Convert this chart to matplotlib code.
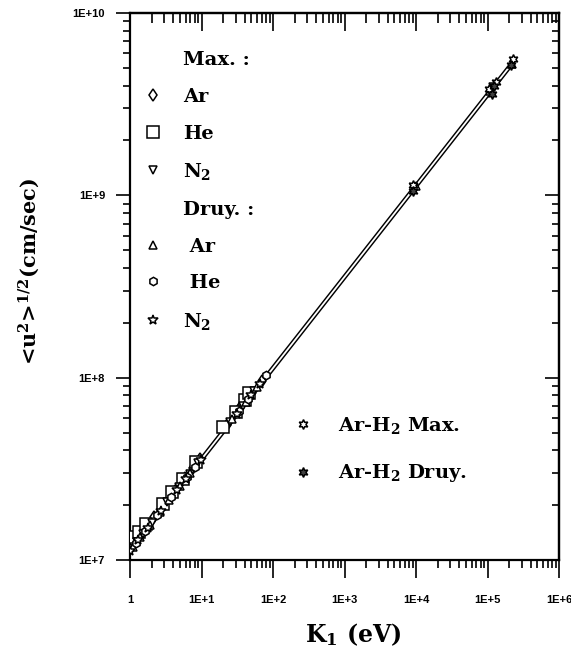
import matplotlib
matplotlib.use("Agg")
import matplotlib.pyplot as plt
from matplotlib.ticker import LogLocator, FixedLocator, FixedFormatter, NullFormatter
from matplotlib.lines import Line2D

SERIF = 'DejaVu Serif'
plt.rcParams['mathtext.fontset'] = 'custom'
plt.rcParams['mathtext.rm'] = 'DejaVu Serif:bold'
plt.rcParams['mathtext.it'] = 'DejaVu Serif:bold'
plt.rcParams['mathtext.bf'] = 'DejaVu Serif:bold'
plt.rcParams['mathtext.default'] = 'rm'

# ---------------- data ----------------
fit_K = [1.0, 2.3e5]
fit_v = [1.13e7, 5.4e9]

max_ar_K = [1.1, 1.3, 1.6, 2.2, 3.0, 4.2, 5.8, 7.5, 9.5, 23, 36, 48, 70]
max_ar_v = [1.25e7, 1.33e7, 1.48e7, 1.72e7, 2.02e7, 2.38e7, 2.80e7, 3.18e7, 3.58e7, 5.5e7, 6.95e7, 8.0e7, 9.6e7]

max_he_K = [1.15, 1.35, 1.7, 2.9, 3.9, 5.6, 8.5, 20, 30, 40, 46]
max_he_v = [1.33e7, 1.42e7, 1.57e7, 2.03e7, 2.36e7, 2.78e7, 3.45e7, 5.37e7, 6.46e7, 7.55e7, 8.2e7]

max_n2_K = [1.05, 1.25, 1.5, 2.0, 3.3, 4.8, 6.8, 9.0, 25, 38, 55, 9500, 1.2e5]
max_n2_v = [1.15e7, 1.25e7, 1.38e7, 1.6e7, 2.08e7, 2.5e7, 2.98e7, 3.42e7, 5.7e7, 7.0e7, 8.5e7, 1.1e9, 3.95e9]

dru_ar_K = [1.1, 1.4, 1.9, 2.6, 3.5, 5.0, 7.0, 27, 42, 60, 1.0e4, 1.1e5, 2.2e5]
dru_ar_v = [1.18e7, 1.34e7, 1.56e7, 1.83e7, 2.12e7, 2.55e7, 3.0e7, 5.9e7, 7.4e7, 8.9e7, 1.12e9, 3.75e9, 5.25e9]

dru_he_K = [1.2, 1.6, 2.4, 3.8, 6.2, 8.0, 33, 45, 80]
dru_he_v = [1.24e7, 1.44e7, 1.76e7, 2.22e7, 2.85e7, 3.22e7, 6.55e7, 7.65e7, 1.03e8]

dru_n2_K = [1.0, 1.3, 1.8, 2.7, 4.5, 6.0, 9.8, 31, 50, 65]
dru_n2_v = [1.12e7, 1.28e7, 1.5e7, 1.86e7, 2.42e7, 2.78e7, 3.55e7, 6.3e7, 8.05e7, 9.2e7]

arh2_max_K = [9200, 1.05e5, 1.3e5, 2.25e5]
arh2_max_v = [1.14e9, 3.85e9, 4.2e9, 5.6e9]

arh2_dru_K = [9000, 1.15e5, 1.25e5, 2.15e5]
arh2_dru_v = [1.06e9, 3.6e9, 4.0e9, 5.2e9]

x_ticks = [1, 1e1, 1e2, 1e3, 1e4, 1e5, 1e6]
x_ticklabels = ['1', '1E+1', '1E+2', '1E+3', '1E+4', '1E+5', '1E+6']
y_ticks = [1e7, 1e8, 1e9, 1e10]
y_ticklabels = ['1E+7', '1E+8', '1E+9', '1E+10']

# ---------------- figure ----------------
fig = plt.figure(figsize=(5.71, 6.54), dpi=100)
ax = fig.add_axes([130/571, 1-560/654, 429/571, 547/654])
ax.set_xscale('log')
ax.set_yscale('log')
ax.set_xlim(1, 1e6)
ax.set_ylim(1e7, 1e10)

# fit line drawn as hollow double line
ax.plot(fit_K, fit_v, color='black', lw=3.4, solid_capstyle='butt', zorder=2)
ax.plot(fit_K, fit_v, color='white', lw=1.3, solid_capstyle='butt', zorder=2.1)

mk = dict(linestyle='none', markerfacecolor='white', markeredgecolor='black', markeredgewidth=1.1, zorder=3)
ax.plot(max_ar_K, max_ar_v, marker='d', markersize=6, **mk)
ax.plot(max_he_K, max_he_v, marker='s', markersize=8, **mk)
ax.plot(max_n2_K, max_n2_v, marker='v', markersize=5.5, **mk)
ax.plot(dru_ar_K, dru_ar_v, marker='^', markersize=5.5, **mk)
ax.plot(dru_he_K, dru_he_v, marker='h', markersize=6, **mk)
ax.plot(dru_n2_K, dru_n2_v, marker='*', markersize=7, **mk)
ax.plot(arh2_max_K, arh2_max_v, marker=(6, 1, 0), markersize=7, **mk)
ax.plot(arh2_dru_K, arh2_dru_v, marker=(6, 1, 0), markersize=7,
        linestyle='none', markerfacecolor='0.25', markeredgecolor='black', markeredgewidth=1.1, zorder=3)

# ticks
for s in ax.spines.values():
    s.set_linewidth(1.6)
ax.xaxis.set_major_locator(FixedLocator(x_ticks))
ax.xaxis.set_major_formatter(FixedFormatter(x_ticklabels))
ax.yaxis.set_major_locator(FixedLocator(y_ticks))
ax.yaxis.set_major_formatter(FixedFormatter(y_ticklabels))
ax.xaxis.set_minor_locator(LogLocator(base=10, subs=range(2, 10), numticks=20))
ax.yaxis.set_minor_locator(LogLocator(base=10, subs=range(2, 10), numticks=20))
ax.xaxis.set_minor_formatter(NullFormatter())
ax.yaxis.set_minor_formatter(NullFormatter())
ax.tick_params(axis='both', which='major', direction='out', length=13, width=1.2,
               labelsize=8, pad=12)
ax.tick_params(axis='both', which='minor', direction='out', length=6, width=1.2)
ax.tick_params(axis='y', which='major', length=10, pad=8)
ax.tick_params(axis='y', which='minor', length=5)
for lab in ax.get_xticklabels() + ax.get_yticklabels():
    lab.set_fontfamily('Liberation Sans')
    lab.set_fontweight('bold')

secx = ax.secondary_xaxis('top')
secx.xaxis.set_major_locator(FixedLocator(x_ticks))
secx.xaxis.set_minor_locator(LogLocator(base=10, subs=range(2, 10), numticks=20))
secx.tick_params(which='major', direction='in', length=13, width=1.2, labeltop=False)
secx.tick_params(which='minor', direction='in', length=7, width=1.2)
secx.xaxis.set_minor_formatter(NullFormatter())
secx.spines['top'].set_linewidth(1.6)

secy = ax.secondary_yaxis('right')
secy.yaxis.set_major_locator(FixedLocator(y_ticks))
secy.yaxis.set_minor_locator(LogLocator(base=10, subs=range(2, 10), numticks=20))
secy.tick_params(which='major', direction='in', length=10, width=1.2, labelright=False)
secy.tick_params(which='minor', direction='in', length=5, width=1.2)
secy.yaxis.set_minor_formatter(NullFormatter())
secy.spines['right'].set_linewidth(1.6)

ax.set_xlabel('K$_1$ (eV)', fontfamily=SERIF, fontweight='bold', fontsize=17)
ax.xaxis.set_label_coords(0.52, -0.112)
ax.set_ylabel('<u$^2$>$^{1/2}$(cm/sec)', fontfamily=SERIF, fontweight='bold', fontsize=15)
ax.yaxis.set_label_coords(-0.205, 0.528)

# legends
blank = Line2D([], [], linestyle='none', marker='none')
def h(m, ms, fc='white'):
    return Line2D([], [], linestyle='none', marker=m, markersize=ms, markerfacecolor=fc,
                  markeredgecolor='black', markeredgewidth=1.1)

lprop = {'family': SERIF, 'weight': 'bold', 'size': 14}
handles1 = [blank, h('d', 6), h('s', 8), h('v', 5.5), blank, h('^', 5.5), h('h', 6), h('*', 7)]
labels1 = ['Max. :', 'Ar', 'He', 'N$_2$', 'Druy. :', ' Ar', ' He', 'N$_2$']
leg1 = ax.legend(handles1, labels1, loc='upper left', bbox_to_anchor=(0.0, 0.955),
                 frameon=False, prop=lprop,
                 handlelength=1.0, handletextpad=1.05, labelspacing=0.96, borderaxespad=0.3)
ax.add_artist(leg1)

handles2 = [h((6, 1, 0), 7), h((6, 1, 0), 7, fc='0.25')]
labels2 = ['Ar-H$_2$ Max.', 'Ar-H$_2$ Druy.']
ax.legend(handles2, labels2, loc='upper left', bbox_to_anchor=(0.363, 0.279),
          frameon=False, prop=lprop,
          handlelength=1.0, handletextpad=1.3, labelspacing=1.35, borderaxespad=0.0)

fig.savefig('out.png', dpi=100)
